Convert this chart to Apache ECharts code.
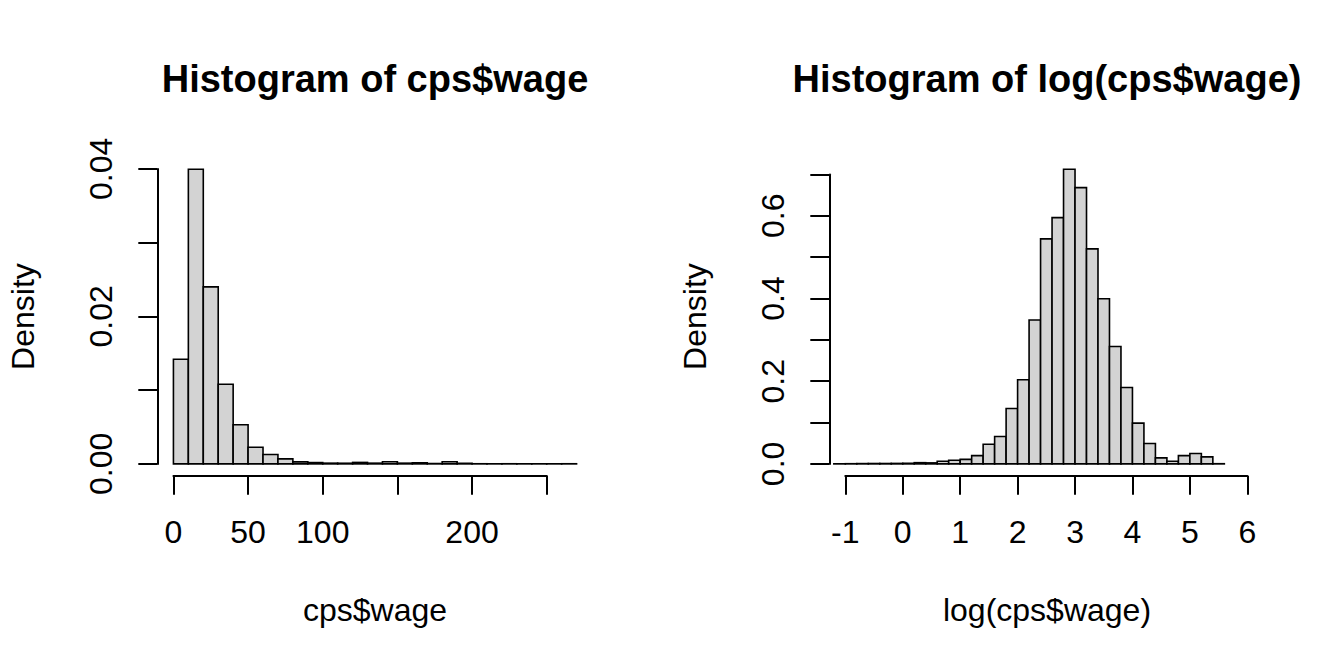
<!DOCTYPE html>
<html>
<head>
<meta charset="utf-8">
<script src="https://cdn.jsdelivr.net/npm/echarts@6/dist/echarts.min.js"></script>
<style>
html,body{margin:0;padding:0;background:#fff;}
#chart{width:1344px;height:672px;}
</style>
</head>
<body>
<div id="chart"></div>
<script>
// ---------------- DATA ----------------
const wageTitle = 'Histogram of cps$wage';
const wageXName = 'cps$wage';
const wageBreaks = [0,10,20,30,40,50,60,70,80,90,100,110,120,130,140,150,160,170,180,190,200,210,220,230,240,250,260,270];
const wageDensity = [0.0142,0.03996,0.0240,0.0108,0.0053,0.00226,0.00127,0.00068,0.00027,0.00018,0.0001,0.00009,0.0002,0.0001,0.0003,0.0001,0.00015,0.00005,0.0003,0.00008,0.00002,0.00001,0.00002,0.00001,0.00001,0.00001,0.00002];
const wageXTicks = [0,50,100,150,200,250];
const wageXLabels = ['0','50','100','','200',''];
const wageYTicks = [0,0.01,0.02,0.03,0.04];
const wageYLabels = ['0.00','','0.02','','0.04'];

const logTitle = 'Histogram of log(cps$wage)';
const logXName = 'log(cps$wage)';
const logBreaks = [-1.2,-1.0,-0.8,-0.6,-0.4,-0.2,0.0,0.2,0.4,0.6,0.8,1.0,1.2,1.4,1.6,1.8,2.0,2.2,2.4,2.6,2.8,3.0,3.2,3.4,3.6,3.8,4.0,4.2,4.4,4.6,4.8,5.0,5.2,5.4,5.6];
const logDensity = [0.0003,0.0005,0.0008,0.001,0.001,0.0012,0.0015,0.003,0.0025,0.0065,0.009,0.011,0.020,0.0476,0.0662,0.134,0.2034,0.348,0.544,0.5956,0.7126,0.668,0.520,0.3995,0.284,0.1848,0.0985,0.0492,0.0145,0.0065,0.020,0.025,0.017,0.0005];
const logXTicks = [-1,0,1,2,3,4,5,6];
const logXLabels = ['-1','0','1','2','3','4','5','6'];
const logYTicks = [0,0.1,0.2,0.3,0.4,0.5,0.6,0.7];
const logYLabels = ['0.0','','0.2','','0.4','','0.6',''];

const yName = 'Density';

// ---------------- LAYOUT ----------------
const FONT = "'Liberation Sans', Arial, Helvetica, sans-serif";
const panels = [
  {title: wageTitle, xName: wageXName, breaks: wageBreaks, dens: wageDensity,
   xTicks: wageXTicks, xLabels: wageXLabels, yTicks: wageYTicks, yLabels: wageYLabels,
   left: 157.3, top: 157.4, width: 435.4, height: 318.3,
   xmin: -10.8, xmax: 280.8, ymin: -0.0016, ymax: 0.04156},
  {title: logTitle, xName: logXName, breaks: logBreaks, dens: logDensity,
   xTicks: logXTicks, xLabels: logXLabels, yTicks: logYTicks, yLabels: logYLabels,
   left: 829.3, top: 157.4, width: 435.4, height: 318.3,
   xmin: -1.279, xmax: 6.303, ymin: -0.0285, ymax: 0.7411}
];

function xpx(p, v){ return p.left + (v - p.xmin) / (p.xmax - p.xmin) * p.width; }
function ypx(p, v){ return p.top + (p.ymax - v) / (p.ymax - p.ymin) * p.height; }

function labelFor(ticks, labels){
  return function(v){
    for (let i = 0; i < ticks.length; i++) {
      if (Math.abs(ticks[i] - v) < 1e-9 * Math.max(1, Math.abs(v)) + 1e-12) return labels[i];
    }
    return '';
  };
}

const grids = [], xAxes = [], yAxes = [], series = [], titles = [];
const hidden = {show: false};
const axisLineStyle = {color: '#000', width: 2};

panels.forEach(function(p){
  const g0 = grids.length;
  // plot region grid
  grids.push({left: p.left, top: p.top, width: p.width, height: p.height, containLabel: false});
  // x-axis grid (tick range only)
  const xl = xpx(p, p.xTicks[0]), xr = xpx(p, p.xTicks[p.xTicks.length - 1]);
  grids.push({left: xl, top: p.top, width: xr - xl, height: p.height, containLabel: false});
  // y-axis grid (tick range only)
  const yt = ypx(p, p.yTicks[p.yTicks.length - 1]), yb = ypx(p, p.yTicks[0]);
  grids.push({left: p.left, top: yt, width: p.width, height: yb - yt, containLabel: false});

  // plot grid axes: invisible, carry the names
  xAxes.push({gridIndex: g0, type: 'value', min: p.xmin, max: p.xmax,
    axisLine: hidden, axisTick: hidden, axisLabel: hidden, splitLine: hidden,
    name: p.xName, nameLocation: 'middle', nameGap: 118,
    nameTextStyle: {fontSize: 32, color: '#000', fontFamily: FONT}});
  yAxes.push({gridIndex: g0, type: 'value', min: p.ymin, max: p.ymax,
    axisLine: hidden, axisTick: hidden, axisLabel: hidden, splitLine: hidden,
    name: yName, nameLocation: 'middle', nameGap: 118,
    nameTextStyle: {fontSize: 32, color: '#000', fontFamily: FONT}});

  // x-axis grid
  const xInt = p.xTicks[1] - p.xTicks[0];
  xAxes.push({gridIndex: g0 + 1, type: 'value', position: 'bottom',
    min: p.xTicks[0], max: p.xTicks[p.xTicks.length - 1], interval: xInt,
    axisLine: {show: true, lineStyle: axisLineStyle},
    axisTick: {show: true, length: 19, lineStyle: axisLineStyle},
    axisLabel: {show: true, margin: 40, fontSize: 32, color: '#000', fontFamily: FONT,
      showMinLabel: true, showMaxLabel: true, hideOverlap: false,
      formatter: labelFor(p.xTicks, p.xLabels)},
    splitLine: hidden});
  yAxes.push({gridIndex: g0 + 1, type: 'value', show: false, splitLine: hidden});

  // y-axis grid
  const yInt = p.yTicks[1] - p.yTicks[0];
  xAxes.push({gridIndex: g0 + 2, type: 'value', show: false, splitLine: hidden});
  yAxes.push({gridIndex: g0 + 2, type: 'value', position: 'left',
    min: p.yTicks[0], max: p.yTicks[p.yTicks.length - 1], interval: yInt,
    axisLine: {show: true, lineStyle: axisLineStyle},
    axisTick: {show: true, length: 19, lineStyle: axisLineStyle},
    axisLabel: {show: true, margin: 40, rotate: 90, fontSize: 32, color: '#000', fontFamily: FONT,
      showMinLabel: true, showMaxLabel: true, hideOverlap: false,
      formatter: labelFor(p.yTicks, p.yLabels)},
    splitLine: hidden});

  // histogram bars
  const rows = p.dens.map(function(d, i){ return [p.breaks[i], p.breaks[i + 1], d]; });
  series.push({
    type: 'custom', xAxisIndex: g0, yAxisIndex: g0, silent: true, animation: false,
    clip: false,
    data: rows,
    encode: {x: [0, 1], y: 2},
    renderItem: function(params, api){
      const a = api.coord([api.value(0), 0]);
      const b = api.coord([api.value(1), api.value(2)]);
      return {type: 'rect',
        shape: {x: a[0], y: b[1], width: b[0] - a[0], height: a[1] - b[1]},
        style: {fill: '#d3d3d3', stroke: '#000', lineWidth: 1.6}};
    }
  });

  titles.push({text: p.title, left: p.left + p.width / 2, top: 60, textAlign: 'center', padding: 0,
    textStyle: {fontSize: 38, fontWeight: 'bold', color: '#000', fontFamily: FONT}});
});

const chart = echarts.init(document.getElementById('chart'), null, {renderer: 'svg'});
chart.setOption({
  animation: false,
  backgroundColor: '#fff',
  title: titles,
  grid: grids,
  xAxis: xAxes,
  yAxis: yAxes,
  series: series
});
</script>
</body>
</html>
